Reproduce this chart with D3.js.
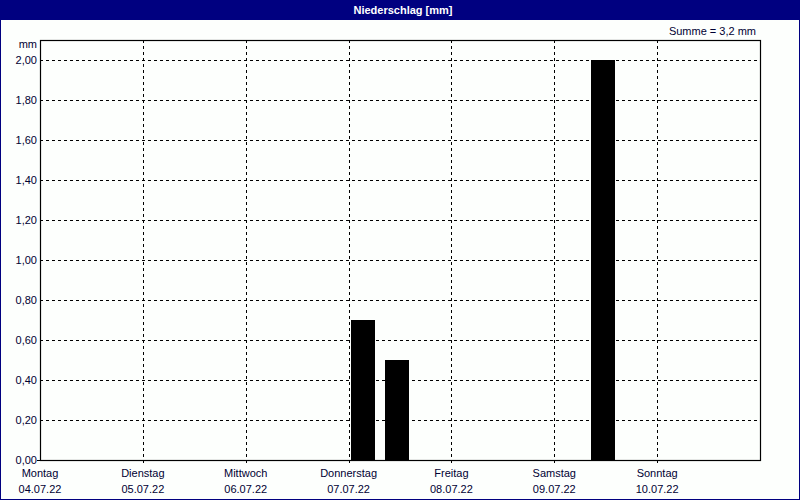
<!DOCTYPE html>
<html><head><meta charset="utf-8">
<script src="https://cdn.jsdelivr.net/npm/d3@7"></script>
<style>html,body{margin:0;padding:0;background:#fff;}svg{display:block;}</style>
</head><body>
<script>
const title = "Niederschlag [mm]";
const unitLabel = "mm";
const sumLabel = "Summe = 3,2 mm";
const dayNames = ["Montag","Dienstag","Mittwoch","Donnerstag","Freitag","Samstag","Sonntag"];
const dayDates = ["04.07.22","05.07.22","06.07.22","07.07.22","08.07.22","09.07.22","10.07.22"];
const dayStarts = ["2022-07-04","2022-07-05","2022-07-06","2022-07-07","2022-07-08","2022-07-09","2022-07-10"];
const binStarts = ["2022-07-07T00:00","2022-07-07T08:00","2022-07-09T08:00"];
const binValues = [0.7, 0.5, 2.0];
const yTicks = [0,0.2,0.4,0.6,0.8,1.0,1.2,1.4,1.6,1.8,2.0];

const W = 800, H = 500;
const m = {left:40, right:40, top:40, bottom:40};
const svg = d3.select("body").append("svg").attr("width",W).attr("height",H)
  .style("font-family","'Liberation Sans', Arial, sans-serif").style("font-size","11px");

svg.append("rect").attr("x",0.5).attr("y",0.5).attr("width",W-1).attr("height",H-1)
  .attr("fill","#fdfffd").attr("stroke","#000080");
svg.append("rect").attr("x",0).attr("y",0).attr("width",W).attr("height",20).attr("fill","#000080");
svg.append("text").attr("x",W/2+3).attr("y",14).attr("text-anchor","middle").attr("fill","#fff")
  .attr("font-weight","bold").text(title);

const parse = d3.timeParse("%Y-%m-%d"), parseT = d3.timeParse("%Y-%m-%dT%H:%M");
const days = dayStarts.map(parse);
const x = d3.scaleTime().domain([days[0], d3.timeDay.offset(days[6],1)]).range([m.left, W-m.right]);
const y = d3.scaleLinear().domain([0,2.1]).range([H-m.bottom, m.top]);
const fmt = v => d3.format(".2f")(v).replace(".",",");

// horizontal grid
svg.append("g").selectAll("line").data(yTicks.slice(1)).join("line")
  .attr("x1",m.left).attr("x2",W-m.right)
  .attr("y1",d=>Math.round(y(d))+0.5).attr("y2",d=>Math.round(y(d))+0.5)
  .attr("stroke","#000").attr("stroke-dasharray","3,3");
// vertical grid
svg.append("g").selectAll("line").data(days.slice(1)).join("line")
  .attr("x1",d=>Math.round(x(d))+0.5).attr("x2",d=>Math.round(x(d))+0.5)
  .attr("y1",m.top).attr("y2",H-m.bottom+6)
  .attr("stroke","#000").attr("stroke-dasharray","3,3");

// bars
const bins = binStarts.map((s,i)=>({t:parseT(s), v:binValues[i]}));
svg.append("g").selectAll("rect").data(bins).join("rect")
  .attr("x",d=>Math.round(x(d.t))+2)
  .attr("width",d=>Math.round(x(d3.timeHour.offset(d.t,8))-x(d.t))-10)
  .attr("y",d=>Math.round(y(d.v)))
  .attr("height",d=>Math.round(y(0)-y(d.v)))
  .attr("fill","#000");

// frame
svg.append("rect").attr("x",m.left+0.5).attr("y",m.top+0.5)
  .attr("width",W-m.left-m.right).attr("height",H-m.top-m.bottom)
  .attr("fill","none").attr("stroke","#000").attr("stroke-width",1.2);

// y labels
svg.append("g").selectAll("text").data(yTicks).join("text")
  .attr("x",m.left-3).attr("y",d=>y(d)+4).attr("text-anchor","end").attr("fill","#000033")
  .text(fmt);
svg.append("line").attr("x1",m.left-3).attr("x2",m.left).attr("y1",y(0)+0.5).attr("y2",y(0)+0.5).attr("stroke","#000");
svg.append("text").attr("x",m.left-3).attr("y",48).attr("text-anchor","end").attr("fill","#000033").text(unitLabel);
svg.append("text").attr("x",W-44).attr("y",35).attr("text-anchor","end").attr("fill","#000033").text(sumLabel);

// x labels
const xl = svg.append("g").selectAll("g").data(days).join("g");
xl.append("text").attr("x",d=>x(d)).attr("y",477).attr("text-anchor","middle").attr("fill","#000033").text((d,i)=>dayNames[i]);
xl.append("text").attr("x",d=>x(d)).attr("y",493).attr("text-anchor","middle").attr("fill","#000033").text((d,i)=>dayDates[i]);
</script>
</body></html>
